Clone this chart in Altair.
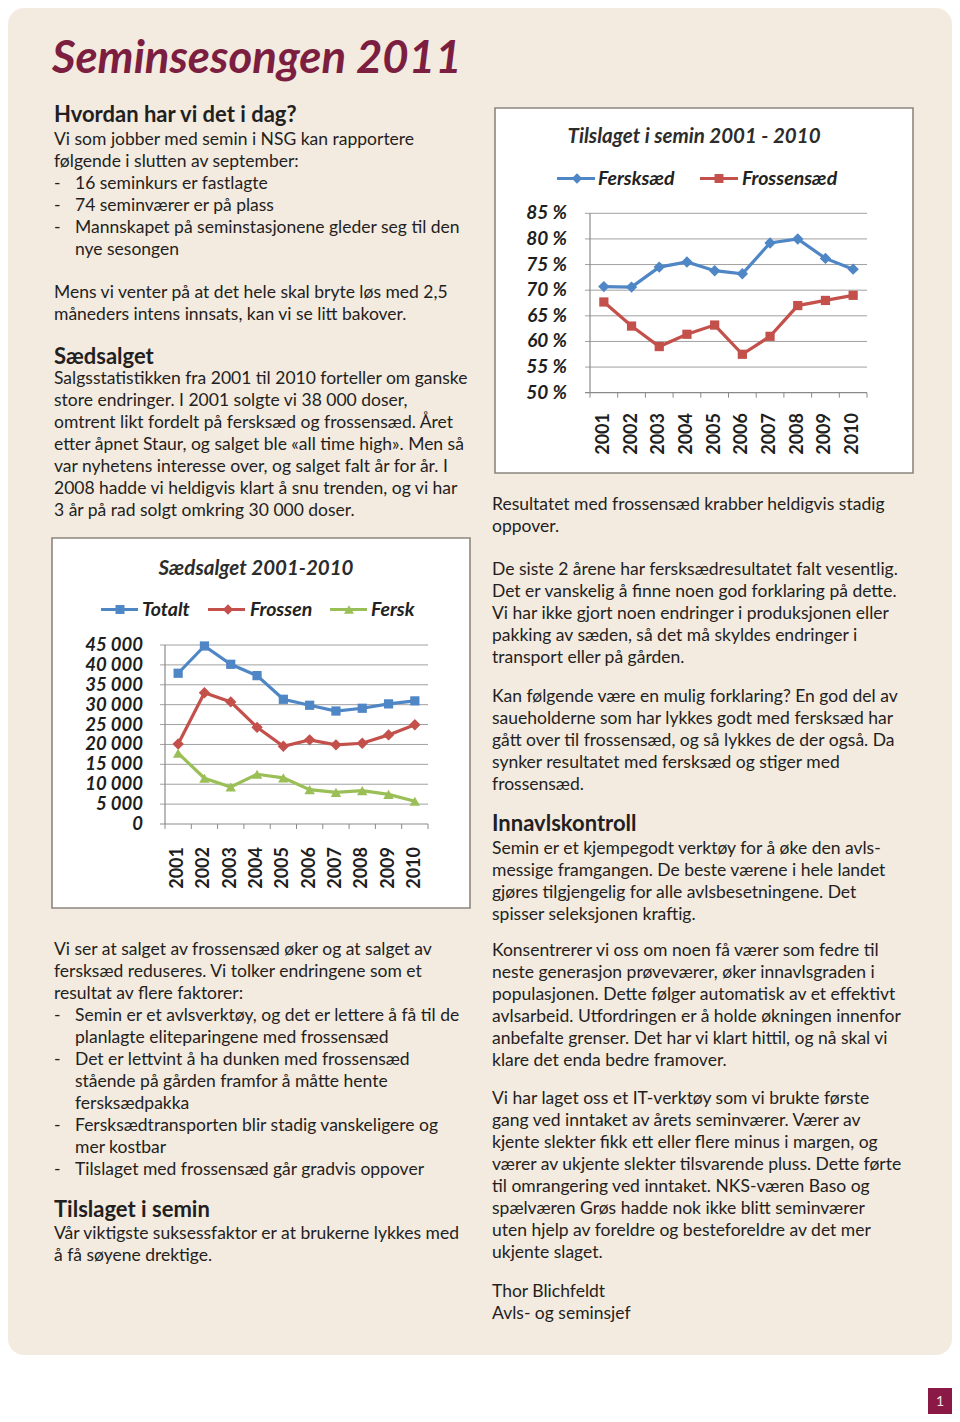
import altair as alt
import pandas as pd

# ---------------- data ----------------
years = ["2001", "2002", "2003", "2004", "2005", "2006", "2007", "2008", "2009", "2010"]

# Tilslaget i semin (%)
tilslag_fersk = [70.7, 70.6, 74.5, 75.5, 73.8, 73.2, 79.2, 80.0, 76.2, 74.1]
tilslag_frossen = [67.7, 63.0, 59.0, 61.4, 63.2, 57.5, 61.0, 67.0, 68.0, 69.0]
pct_ticks = [50, 55, 60, 65, 70, 75, 80, 85]
pct_labels = ["50 %", "55 %", "60 %", "65 %", "70 %", "75 %", "80 %", "85 %"]

# Sædsalget (doser)
salg_totalt = [37900, 44750, 40150, 37300, 31350, 29850, 28400, 29100, 30200, 30950]
salg_frossen = [20100, 33000, 30700, 24300, 19550, 21150, 19900, 20300, 22400, 24950]
salg_fersk = [17800, 11500, 9300, 12500, 11600, 8650, 7950, 8400, 7450, 5700]
ant_ticks = [0, 5000, 10000, 15000, 20000, 25000, 30000, 35000, 40000, 45000]
ant_labels = ["0", "5 000", "10 000", "15 000", "20 000", "25 000", "30 000", "35 000", "40 000", "45 000"]

page_title = "Seminsesongen 2011"
page_number = "1"

h_dag = ["Hvordan har vi det i dag?"]
txt_dag = [
    "Vi som jobber med semin i NSG kan rapportere",
    "følgende i slutten av september:",
    "- 16 seminkurs er fastlagte",
    "- 74 seminværer er på plass",
    "- Mannskapet på seminstasjonene gleder seg til den",
    "  nye sesongen",
]
txt_mens = [
    "Mens vi venter på at det hele skal bryte løs med 2,5",
    "måneders intens innsats, kan vi se litt bakover.",
]
h_salg = ["Sædsalget"]
txt_salg = [
    "Salgsstatistikken fra 2001 til 2010 forteller om ganske",
    "store endringer. I 2001 solgte vi 38 000 doser,",
    "omtrent likt fordelt på fersksæd og frossensæd. Året",
    "etter åpnet Staur, og salget ble «all time high». Men så",
    "var nyhetens interesse over, og salget falt år for år. I",
    "2008 hadde vi heldigvis klart å snu trenden, og vi har",
    "3 år på rad solgt omkring 30 000 doser.",
]
txt_viser = [
    "Vi ser at salget av frossensæd øker og at salget av",
    "fersksæd reduseres. Vi tolker endringene som et",
    "resultat av flere faktorer:",
    "- Semin er et avlsverktøy, og det er lettere å få til de",
    "  planlagte eliteparingene med frossensæd",
    "- Det er lettvint å ha dunken med frossensæd",
    "  stående på gården framfor å måtte hente",
    "  fersksædpakka",
    "- Fersksædtransporten blir stadig vanskeligere og",
    "  mer kostbar",
    "- Tilslaget med frossensæd går gradvis oppover",
]
h_tilslag = ["Tilslaget i semin"]
txt_tilslag = [
    "Vår viktigste suksessfaktor er at brukerne lykkes med",
    "å få søyene drektige.",
]
txt_res = [
    "Resultatet med frossensæd krabber heldigvis stadig",
    "oppover.",
]
txt_siste = [
    "De siste 2 årene har fersksædresultatet falt vesentlig.",
    "Det er vanskelig å finne noen god forklaring på dette.",
    "Vi har ikke gjort noen endringer i produksjonen eller",
    "pakking av sæden, så det må skyldes endringer i",
    "transport eller på gården.",
]
txt_kan = [
    "Kan følgende være en mulig forklaring? En god del av",
    "saueholderne som har lykkes godt med fersksæd har",
    "gått over til frossensæd, og så lykkes de der også. Da",
    "synker resultatet med fersksæd og stiger med",
    "frossensæd.",
]
h_innavl = ["Innavlskontroll"]
txt_innavl = [
    "Semin er et kjempegodt verktøy for å øke den avls-",
    "messige framgangen. De beste værene i hele landet",
    "gjøres tilgjengelig for alle avlsbesetningene. Det",
    "spisser seleksjonen kraftig.",
]
txt_kons = [
    "Konsentrerer vi oss om noen få værer som fedre til",
    "neste generasjon prøveværer, øker innavlsgraden i",
    "populasjonen. Dette følger automatisk av et effektivt",
    "avlsarbeid. Utfordringen er å holde økningen innenfor",
    "anbefalte grenser. Det har vi klart hittil, og nå skal vi",
    "klare det enda bedre framover.",
]
txt_it = [
    "Vi har laget oss et IT-verktøy som vi brukte første",
    "gang ved inntaket av årets seminværer. Værer av",
    "kjente slekter fikk ett eller flere minus i margen, og",
    "værer av ukjente slekter tilsvarende pluss. Dette førte",
    "til omrangering ved inntaket. NKS-væren Baso og",
    "spælværen Grøs hadde nok ikke blitt seminværer",
    "uten hjelp av foreldre og besteforeldre av det mer",
    "ukjente slaget.",
]
txt_sign = ["Thor Blichfeldt", "Avls- og seminsjef"]

# ---------------- styles / layout ----------------
OX, OY = 8, 8          # page margin: chart origin on the page


def P(x):
    return x - OX


def Q(y):
    return y - OY


BODY = "Lato"
CHARTFONT = "Lato"
TXT = "#231f20"
BEIGE = "#f3eae0"
MAROON = "#7b1e3f"
GRID = "#a0a0a0"
AXIS = "#8a8a8a"
BLUE = "#4f86c6"
RED = "#c4504c"
GREEN = "#9bbf57"
LH = 22
HEAD = 22

dummy = pd.DataFrame({"a": [0]})


def rect(x0, y0, x1, y1, **kw):
    return alt.Chart(dummy).mark_rect(**kw).encode(
        x=alt.value(P(x0)), x2=alt.value(P(x1)), y=alt.value(Q(y0)), y2=alt.value(Q(y1)))


def label(text, x, y, **kw):
    return alt.Chart(dummy).mark_text(**kw).encode(
        x=alt.value(P(x)), y=alt.value(Q(y)), text=alt.value(text))


def text_block(lines, x0, y0, size=17.5, weight="normal", indent=21):
    rows = []
    for i, ln in enumerate(lines):
        if ln.startswith("- "):
            rows.append({"row": i, "ind": 0, "t": "-"})
            rows.append({"row": i, "ind": 1, "t": ln[2:]})
        elif ln.startswith("  "):
            rows.append({"row": i, "ind": 1, "t": ln[2:]})
        else:
            rows.append({"row": i, "ind": 0, "t": ln})
    df = pd.DataFrame(rows)
    return alt.Chart(df).mark_text(
        align="left", baseline="alphabetic", font=BODY, fontSize=size,
        fontWeight=weight, color=TXT
    ).encode(
        x=alt.X("ind:Q", scale=alt.Scale(domain=[0, 1], range=[P(x0), P(x0 + indent)], nice=False, zero=False), axis=None),
        y=alt.Y("row:Q", scale=alt.Scale(domain=[0, 1], range=[Q(y0), Q(y0 + LH)], nice=False, zero=False), axis=None),
        text="t:N",
    )


def legend_item(x0, x1, xm, y, color, shape, size, name, xt, fs):
    line = alt.Chart(dummy).mark_rule(color=color, strokeWidth=3).encode(
        x=alt.value(P(x0)), x2=alt.value(P(x1)), y=alt.value(Q(y)))
    pt = alt.Chart(dummy).mark_point(shape=shape, filled=True, opacity=1, color=color, size=size).encode(
        x=alt.value(P(xm)), y=alt.value(Q(y)))
    tx = label(name, xt, y, align="left", baseline="middle", font=CHARTFONT, fontSize=fs,
               fontWeight="bold", fontStyle="italic", color="#222222")
    return [line, pt, tx]


def line_chart(series, x_rng, y_dom, y_rng, ticks, tlabels, grid_x0, ylab_x, xlab_y, lab_fs, yr_fs):
    xs = alt.Scale(type="point", domain=years, range=[P(x_rng[0]), P(x_rng[1])], padding=0.5)
    ys = alt.Scale(domain=y_dom, range=[Q(y_rng[0]), Q(y_rng[1])], nice=False, zero=False)
    step = (x_rng[1] - x_rng[0]) / len(years)
    tick_df = pd.DataFrame({"v": ticks, "lab": tlabels})
    yr_df = pd.DataFrame({"year": years})
    layers = []
    layers.append(alt.Chart(tick_df[tick_df.v > y_dom[0]]).mark_rule(color=GRID, strokeWidth=1).encode(
        y=alt.Y("v:Q", scale=ys, axis=None), x=alt.value(P(grid_x0)), x2=alt.value(P(x_rng[1]))))
    layers.append(alt.Chart(tick_df[tick_df.v == y_dom[0]]).mark_rule(color=AXIS, strokeWidth=1.2).encode(
        y=alt.Y("v:Q", scale=ys, axis=None), x=alt.value(P(grid_x0)), x2=alt.value(P(x_rng[1]))))
    layers.append(alt.Chart(dummy).mark_rule(color=AXIS, strokeWidth=1.2).encode(
        x=alt.value(P(x_rng[0])), y=alt.value(Q(y_rng[1])), y2=alt.value(Q(y_rng[0]))))
    layers.append(alt.Chart(yr_df).mark_rule(color=AXIS, strokeWidth=1, xOffset=-step / 2).encode(
        x=alt.X("year:O", scale=xs, axis=None), y=alt.value(Q(y_rng[0])), y2=alt.value(Q(y_rng[0]) + 5)))
    layers.append(alt.Chart(yr_df[yr_df.year == years[-1]]).mark_rule(color=AXIS, strokeWidth=1, xOffset=step / 2).encode(
        x=alt.X("year:O", scale=xs, axis=None), y=alt.value(Q(y_rng[0])), y2=alt.value(Q(y_rng[0]) + 5)))
    for vals, color, shape, size in series:
        df = pd.DataFrame({"year": years, "v": vals})
        layers.append(alt.Chart(df).mark_line(color=color, strokeWidth=3.2).encode(
            x=alt.X("year:O", scale=xs, axis=None), y=alt.Y("v:Q", scale=ys, axis=None)))
        layers.append(alt.Chart(df).mark_point(color=color, shape=shape, size=size, filled=True, opacity=1).encode(
            x=alt.X("year:O", scale=xs, axis=None), y=alt.Y("v:Q", scale=ys, axis=None)))
    layers.append(alt.Chart(tick_df).mark_text(
        align="right", baseline="middle", font=CHARTFONT, fontSize=lab_fs, fontWeight="bold",
        fontStyle="italic", color="#1e1e1e").encode(
        y=alt.Y("v:Q", scale=ys, axis=None), x=alt.value(P(ylab_x)), text="lab:N"))
    layers.append(alt.Chart(yr_df).mark_text(
        align="right", baseline="middle", angle=270, font=CHARTFONT, fontSize=yr_fs,
        fontWeight="bold", color="#1e1e1e").encode(
        x=alt.X("year:O", scale=xs, axis=None), y=alt.value(Q(xlab_y)), text="year:N"))
    return alt.layer(*layers)


# ---------------- page ----------------
layers = []
layers.append(rect(8, 8, 952, 1355, color=BEIGE, cornerRadius=16))
layers.append(rect(928, 1388, 952, 1416, color="#8a1a45"))
layers.append(label(page_number, 940, 1402, align="center", baseline="middle", font=BODY,
                    fontSize=14, color="#f0e4ea"))

layers.append(label(page_title, 52, 73, align="left", baseline="alphabetic", font=BODY, fontSize=45.5,
                    fontWeight="bold", fontStyle="italic", color=MAROON))

# left column
layers.append(text_block(h_dag, 54, 122, size=HEAD, weight="bold"))
layers.append(text_block(txt_dag, 54, 145))
layers.append(text_block(txt_mens, 54, 297.5))
layers.append(text_block(h_salg, 54, 363.5, size=HEAD, weight="bold"))
layers.append(text_block(txt_salg, 54, 383.5))
layers.append(text_block(txt_viser, 54, 955))
layers.append(text_block(h_tilslag, 54, 1217, size=HEAD, weight="bold"))
layers.append(text_block(txt_tilslag, 54, 1238.5))

# right column
layers.append(text_block(txt_res, 492, 509.5))
layers.append(text_block(txt_siste, 492, 575))
layers.append(text_block(txt_kan, 492, 701.5))
layers.append(text_block(h_innavl, 492, 831, size=HEAD, weight="bold"))
layers.append(text_block(txt_innavl, 492, 853.5))
layers.append(text_block(txt_kons, 492, 956))
layers.append(text_block(txt_it, 492, 1103.5))
layers.append(text_block(txt_sign, 492, 1297))

# chart 1: Tilslaget i semin
layers.append(rect(495, 108, 913, 473, color="white", stroke="#8d877f", strokeWidth=1.6))
layers.append(label("Tilslaget i semin 2001 - 2010", 694, 142.5, align="center", baseline="alphabetic",
                    font=CHARTFONT, fontSize=20.5, fontWeight="bold", fontStyle="italic", color="#2c2c2c"))
layers += legend_item(557, 595, 577, 178.5, BLUE, "diamond", 110, "Fersksæd", 598, 19.5)
layers += legend_item(700, 738, 719, 178.5, RED, "square", 80, "Frossensæd", 742, 19.5)
layers.append(line_chart(
    [(tilslag_fersk, BLUE, "diamond", 130), (tilslag_frossen, RED, "square", 85)],
    (590, 867), [50, 85], (392.7, 213.3), pct_ticks, pct_labels, 585, 567, 413, 19, 18))

# chart 2: Sædsalget
layers.append(rect(52, 538, 470, 908, color="white", stroke="#8d877f", strokeWidth=1.6))
layers.append(label("Sædsalget 2001-2010", 256, 574.5, align="center", baseline="alphabetic",
                    font=CHARTFONT, fontSize=20.5, fontWeight="bold", fontStyle="italic", color="#2c2c2c"))
layers += legend_item(101, 138, 120, 609.5, BLUE, "square", 80, "Totalt", 142, 19.5)
layers += legend_item(208, 245, 228, 609.5, RED, "diamond", 110, "Frossen", 250, 19.5)
layers += legend_item(330, 367, 349, 609.5, GREEN, "triangle-up", 100, "Fersk", 371, 19.5)
layers.append(line_chart(
    [(salg_totalt, BLUE, "square", 85), (salg_frossen, RED, "diamond", 130),
     (salg_fersk, GREEN, "triangle-up", 110)],
    (165, 428), [0, 45000], (824, 645), ant_ticks, ant_labels, 160, 143, 847, 18.5, 18))

chart = alt.layer(*layers).resolve_scale(x="independent", y="independent").properties(
    width=944, height=1406, padding=0, autosize="none", background="white"
).configure_view(stroke=None)

chart.save("out.html", embed_options={"renderer": "svg", "actions": False})
